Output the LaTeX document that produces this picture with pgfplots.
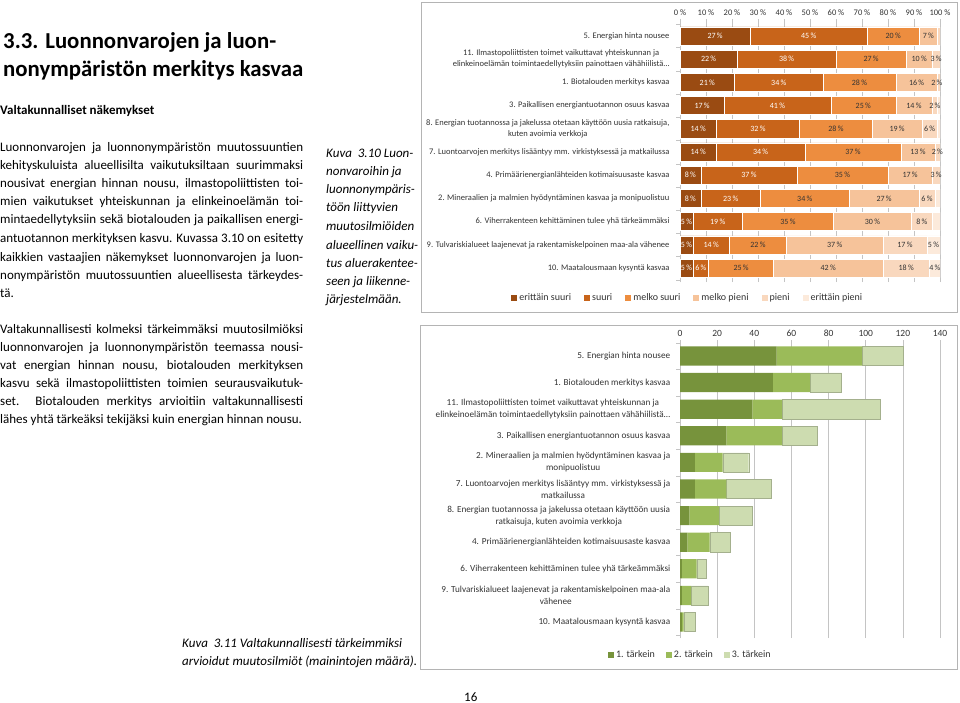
\documentclass[border=0pt]{standalone}
\usepackage{fontspec}
\setmainfont{Carlito}
\usepackage{pgfplots}
\pgfplotsset{compat=1.18}
\definecolor{cES}{HTML}{9A4B12}
\definecolor{cS}{HTML}{C8641A}
\definecolor{cMS}{HTML}{ED8D3F}
\definecolor{cMP}{HTML}{F6C39A}
\definecolor{cP}{HTML}{F9D8BE}
\definecolor{cEP}{HTML}{FCEADB}
\definecolor{gA}{HTML}{77933C}
\definecolor{gB}{HTML}{9BBB59}
\definecolor{gC}{HTML}{CDDCB0}
\definecolor{framec}{HTML}{B4B4B4}
\definecolor{gridc}{HTML}{C4C4C4}
\definecolor{lbl}{HTML}{333333}
\newcommand\bodyfont{\fontsize{13}{15}\selectfont}
\newcommand\jline[2]{\node[anchor=base west,inner sep=0pt,font=\bodyfont] at (0pt,-#1pt) {\hbox to 303pt{#2}};}
\newcommand\tline[4]{\node[anchor=base west,inner sep=0pt,font=#3] at (#1pt,-#2pt) {#4};}
\begin{document}
\begin{tikzpicture}
\path[use as bounding box] (0pt,0pt) rectangle (960pt,-703pt);
% ---------- text column ----------
\tline{3}{49}{\fontsize{22.8}{26}\selectfont\bfseries}{3.3. Luonnonvarojen ja luon-}
\tline{3}{77}{\fontsize{22.8}{26}\selectfont\bfseries}{nonympäristön merkitys kasvaa}
\tline{0}{115}{\bodyfont\bfseries}{Valtakunnalliset näkemykset}
\jline{152}{Luonnonvarojen ja luonnonympäristön muutossuuntien}
\jline{170}{kehityskuluista alueellisilta vaikutuksiltaan suurimmaksi}
\jline{188}{nousivat energian hinnan nousu, ilmastopoliittisten toi-}
\jline{206}{mien vaikutukset yhteiskunnan ja elinkeinoelämän toi-}
\jline{224}{mintaedellytyksiin sekä biotalouden ja paikallisen energi-}
\jline{243}{antuotannon merkityksen kasvu. Kuvassa 3.10 on esitetty}
\jline{261}{kaikkien vastaajien näkemykset luonnonvarojen ja luon-}
\jline{279}{nonympäristön muutossuuntien alueellisesta tärkeydes-}
\tline{0}{297}{\bodyfont}{tä.}
\tline{326}{158}{\bodyfont\itshape}{Kuva\ \ 3.10 Luon-}
\tline{326}{176}{\bodyfont\itshape}{nonvaroihin ja}
\tline{326}{194}{\bodyfont\itshape}{luonnonympäris-}
\tline{326}{212}{\bodyfont\itshape}{töön liittyvien}
\tline{326}{231}{\bodyfont\itshape}{muutosilmiöiden}
\tline{326}{249}{\bodyfont\itshape}{alueellinen vaiku-}
\tline{326}{267}{\bodyfont\itshape}{tus aluerakentee-}
\tline{326}{285}{\bodyfont\itshape}{seen ja liikenne-}
\tline{326}{303}{\bodyfont\itshape}{järjestelmään.}
\jline{333}{Valtakunnallisesti kolmeksi tärkeimmäksi muutosilmiöksi}
\jline{351}{luonnonvarojen ja luonnonympäristön teemassa nousi-}
\jline{369}{vat energian hinnan nousu, biotalouden merkityksen}
\jline{387}{kasvu sekä ilmastopoliittisten toimien seurausvaikutuk-}
\jline{405}{set. Biotalouden merkitys arvioitiin valtakunnallisesti}
\tline{0}{423}{\bodyfont}{lähes yhtä tärkeäksi tekijäksi kuin energian hinnan nousu.}
\tline{182}{647}{\bodyfont\itshape}{Kuva\ \ 3.11 Valtakunnallisesti tärkeimmiksi}
\tline{182}{665}{\bodyfont\itshape}{arvioidut muutosilmiöt (mainintojen määrä).}
\tline{464}{701}{\bodyfont}{16}
% ---------- frames ----------
\draw[framec,line width=0.8pt] (421pt,-2pt) rectangle (957pt,-312pt);
\draw[framec,line width=0.8pt] (420pt,-325pt) rectangle (957pt,-669pt);
% ---------- chart 1 ----------
\begin{axis}[
  at={(680pt,-22pt)}, anchor=north west,
  scale only axis, width=260pt, height=260pt,
  xbar stacked, bar width=0.78,
  xmin=0, xmax=100, ymin=-0.6, ymax=10.6,
  axis x line*=top, axis y line*=left,
  x axis line style={draw=none},
  y axis line style={draw=gridc},
  xtick={0,10,...,100},
  xticklabels={0 \%,10 \%,20 \%,30 \%,40 \%,50 \%,60 \%,70 \%,80 \%,90 \%,100 \%},
  xticklabel style={font=\fontsize{8.5}{10}\selectfont, text=lbl},
  xtick align=outside, major tick length=3pt,
  major x tick style={draw=gridc},
  xmajorgrids, grid style={draw=gridc, line width=0.4pt},
  ytick={0,...,10},
  major y tick style={draw=none},
  minor ytick={-0.5,0.5,...,10.5},
  minor y tick style={draw=gridc},
  minor tick length=4pt,
  ytick align=outside,
  yticklabel style={font=\fontsize{8.5}{11}\selectfont, text=lbl, align=center, xshift=-4pt},
  yticklabels={
    {10. Maatalousmaan kysyntä kasvaa},
    {9. Tulvariskialueet laajenevat ja rakentamiskelpoinen maa-ala vähenee},
    {6. Viherrakenteen kehittäminen tulee yhä tärkeämmäksi},
    {2. Mineraalien ja malmien hyödyntäminen kasvaa ja monipuolistuu},
    {4. Primäärienergianlähteiden kotimaisuusaste kasvaa},
    {7. Luontoarvojen merkitys lisääntyy mm. virkistyksessä ja matkailussa},
    {8. Energian tuotannossa ja jakelussa otetaan käyttöön uusia ratkaisuja,\\kuten avoimia verkkoja},
    {3. Paikallisen energiantuotannon osuus kasvaa},
    {1. Biotalouden merkitys kasvaa},
    {11. Ilmastopoliittisten toimet vaikuttavat yhteiskunnan ja\\elinkeinoelämän toimintaedellytyksiin painottaen vähähiilistä…},
    {5. Energian hinta nousee}},
  legend columns=6,
  legend style={at={(0.03,-0.062)}, anchor=center, draw=none, fill=none,
    font=\fontsize{10}{12}\selectfont, text=lbl,
    /tikz/every even column/.append style={column sep=11pt}},
  legend image code/.code={\fill[#1,draw=none] (0pt,-3pt) rectangle (6pt,3pt);},
]
\addplot[fill=cES, draw=white, line width=0.5pt] coordinates {(27,10)(22,9)(21,8)(17,7)(14,6)(14,5)(8,4)(8,3)(5,2)(5,1)(5,0)};
\addplot[fill=cS, draw=white, line width=0.5pt] coordinates {(45,10)(38,9)(34,8)(41,7)(32,6)(34,5)(37,4)(23,3)(19,2)(14,1)(6,0)};
\addplot[fill=cMS, draw=white, line width=0.5pt] coordinates {(20,10)(27,9)(28,8)(25,7)(28,6)(37,5)(35,4)(34,3)(35,2)(22,1)(25,0)};
\addplot[fill=cMP, draw=white, line width=0.5pt] coordinates {(7,10)(10,9)(16,8)(14,7)(19,6)(13,5)(17,4)(27,3)(30,2)(37,1)(42,0)};
\addplot[fill=cP, draw=white, line width=0.5pt] coordinates {(1,10)(3,9)(2,8)(2,7)(6,6)(2,5)(3,4)(6,3)(8,2)(17,1)(18,0)};
\addplot[fill=cEP, draw=white, line width=0.5pt] coordinates {(0,10)(0,9)(0,8)(1,7)(1,6)(0,5)(0,4)(2,3)(3,2)(5,1)(4,0)};
\legend{erittäin suuri,suuri,melko suuri,melko pieni,pieni,erittäin pieni}
\end{axis}
% labels chart 1
\begin{axis}[
  at={(680pt,-22pt)}, anchor=north west,
  scale only axis, width=260pt, height=260pt,
  xmin=0, xmax=100, ymin=-0.6, ymax=10.6, hide axis, clip=false,
]
\addplot[draw=none, mark=none, nodes near coords, point meta=explicit symbolic,
  nodes near coords style={anchor=center, inner sep=0pt, font=\fontsize{8}{9}\selectfont, text=white}]
  coordinates {(13.5,10)[27\,\%] (49.5,10)[45\,\%]
  (11,9)[22\,\%] (41,9)[38\,\%]
  (10.5,8)[21\,\%] (38,8)[34\,\%]
  (8.5,7)[17\,\%] (37.5,7)[41\,\%]
  (7,6)[14\,\%] (30,6)[32\,\%]
  (7,5)[14\,\%] (31,5)[34\,\%]
  (4,4)[8\,\%] (26.5,4)[37\,\%]
  (4,3)[8\,\%] (19.5,3)[23\,\%]
  (2.5,2)[5\,\%] (14.5,2)[19\,\%]
  (2.5,1)[5\,\%] (12,1)[14\,\%]
  (2.5,0)[5\,\%] (8,0)[6\,\%]};
\addplot[draw=none, mark=none, nodes near coords, point meta=explicit symbolic,
  nodes near coords style={anchor=center, inner sep=0pt, font=\fontsize{8}{9}\selectfont, text=lbl}]
  coordinates {(82,10)[20\,\%] (95.5,10)[7\,\%]
  (73.5,9)[27\,\%] (92,9)[10\,\%] (98.5,9)[3\,\%]
  (69,8)[28\,\%] (91,8)[16\,\%] (98.8,8)[2\,\%]
  (70.5,7)[25\,\%] (90,7)[14\,\%] (98,7)[2\,\%]
  (60,6)[28\,\%] (83.5,6)[19\,\%] (96,6)[6\,\%]
  (66.5,5)[37\,\%] (91.5,5)[13\,\%] (99,5)[2\,\%]
  (62.5,4)[35\,\%] (88.5,4)[17\,\%] (98.5,4)[3\,\%]
  (48,3)[34\,\%] (78.5,3)[27\,\%] (95,3)[6\,\%]
  (41.5,2)[35\,\%] (74,2)[30\,\%] (93,2)[8\,\%]
  (30,1)[22\,\%] (59.5,1)[37\,\%] (86.5,1)[17\,\%] (97.5,1)[5\,\%]
  (23.5,0)[25\,\%] (57,0)[42\,\%] (87,0)[18\,\%] (98,0)[4\,\%]};
\end{axis}
% ---------- chart 2 ----------
\begin{axis}[
  at={(680pt,-340pt)}, anchor=north west,
  scale only axis, width=260pt, height=298pt,
  xbar stacked, bar width=0.72,
  xmin=0, xmax=140, ymin=-0.6, ymax=10.6,
  axis x line*=top, axis y line*=left,
  x axis line style={draw=none},
  y axis line style={draw=gridc},
  xtick={0,20,...,140},
  xticklabels={0,20,40,60,80,100,120,140},
  xticklabel style={font=\fontsize{9.5}{11}\selectfont, text=lbl},
  major x tick style={draw=none},
  xmajorgrids, grid style={draw=gridc, line width=0.5pt},
  ytick={0,...,10},
  major y tick style={draw=none},
  minor ytick={-0.5,0.5,...,10.5},
  minor y tick style={draw=gridc},
  minor tick length=4pt,
  ytick align=outside,
  yticklabel style={font=\fontsize{9.2}{12}\selectfont, text=lbl, align=center, xshift=-2pt},
  yticklabels={
    {10. Maatalousmaan kysyntä kasvaa},
    {9. Tulvariskialueet laajenevat ja rakentamiskelpoinen maa-ala\\vähenee},
    {6. Viherrakenteen kehittäminen tulee yhä tärkeämmäksi},
    {4. Primäärienergianlähteiden kotimaisuusaste kasvaa},
    {8. Energian tuotannossa ja jakelussa otetaan käyttöön uusia\\ratkaisuja, kuten avoimia verkkoja},
    {7. Luontoarvojen merkitys lisääntyy mm. virkistyksessä ja\\matkailussa},
    {2. Mineraalien ja malmien hyödyntäminen kasvaa ja\\monipuolistuu},
    {3. Paikallisen energiantuotannon osuus kasvaa},
    {11. Ilmastopoliittisten toimet vaikuttavat yhteiskunnan ja\\elinkeinoelämän toimintaedellytyksiin painottaen vähähiilistä…},
    {1. Biotalouden merkitys kasvaa},
    {5. Energian hinta nousee}},
  legend columns=3,
  legend style={at={(0.04,-0.057)}, anchor=center, draw=none, fill=none,
    font=\fontsize{10}{12}\selectfont, text=lbl,
    /tikz/every even column/.append style={column sep=9pt}},
  legend image code/.code={\fill[#1,draw=none] (0pt,-3pt) rectangle (6pt,3pt);},
]
\addplot[fill=gA, draw=none] coordinates {(52,10)(50,9)(39,8)(25,7)(8,6)(8,5)(5,4)(4,3)(1,2)(1,1)(1,0)};
\addplot[fill=gB, draw=none] coordinates {(46,10)(20,9)(16,8)(30,7)(15,6)(17,5)(16,4)(12,3)(8,2)(5,1)(1,0)};
\addplot[fill=gC, draw=gC!80!black, line width=0.3pt] coordinates {(22,10)(17,9)(53,8)(19,7)(14,6)(24,5)(18,4)(11,3)(5,2)(9,1)(6,0)};
\legend{1. tärkein,2. tärkein,3. tärkein}
\end{axis}
\end{tikzpicture}
\end{document}
